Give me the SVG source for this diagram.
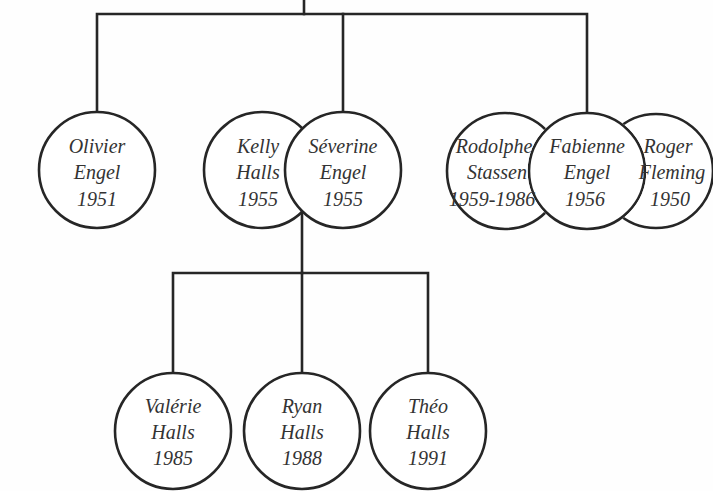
<svg xmlns="http://www.w3.org/2000/svg" width="713" height="491" viewBox="0 0 713 491">
<style>
.bg{fill:#fefefe}
.node circle{fill:#ffffff;stroke:#262626;stroke-width:2.6}
.node text{font-family:"Liberation Serif","DejaVu Serif",serif;font-style:italic;font-size:20px;fill:#333333;text-anchor:middle}
.conn{fill:none;stroke:#262626;stroke-width:2.6;stroke-linecap:square}
</style>
<defs>
<mask id="notFab" maskUnits="userSpaceOnUse" x="0" y="0" width="713" height="491">
<rect x="0" y="0" width="713" height="491" fill="#fff"/>
<circle cx="587" cy="171" r="59.4" fill="#000"/>
</mask>
</defs>
<rect class="bg" x="0" y="0" width="713" height="491"/>
<g id="connectors">
<path class="conn" d="M304 0 V14"/>
<path class="conn" d="M97 112 V14 H587 V113"/>
<path class="conn" d="M343 14 V113"/>
<path class="conn" d="M302 212 V273"/>
<path class="conn" d="M173 373 V273 H428 V373"/>
<path class="conn" d="M302 273 V373"/>
</g>
<g id="olivier" class="node">
<circle cx="97" cy="170" r="58"/>
<text x="97" y="153">Olivier</text>
<text x="97" y="179">Engel</text>
<text x="97" y="206">1951</text>
</g>
<g id="kelly" class="node">
<circle cx="262" cy="170" r="58"/>
<text x="258" y="153">Kelly</text>
<text x="258" y="179">Halls</text>
<text x="258" y="206">1955</text>
</g>
<g id="severine" class="node">
<circle cx="343" cy="170" r="58"/>
<text x="343" y="153">Séverine</text>
<text x="343" y="179">Engel</text>
<text x="343" y="206">1955</text>
</g>
<g id="fabienne" class="node">
<circle cx="587" cy="171" r="58"/>
<text x="587" y="153">Fabienne</text>
<text x="587" y="179">Engel</text>
<text x="585" y="206">1956</text>
</g>
<g id="rodolphe" class="node">
<circle cx="505" cy="171" r="58" mask="url(#notFab)"/>
<text x="494" y="153">Rodolphe</text>
<text x="497" y="179">Stassen</text>
<text x="492" y="206">1959-1986</text>
</g>
<g id="roger" class="node">
<circle cx="656" cy="171" r="57" mask="url(#notFab)"/>
<text x="668" y="153">Roger</text>
<text x="672" y="179">Fleming</text>
<text x="670" y="206">1950</text>
</g>
<g id="valerie" class="node">
<circle cx="173" cy="431" r="58"/>
<text x="173" y="413">Valérie</text>
<text x="173" y="439">Halls</text>
<text x="173" y="465">1985</text>
</g>
<g id="ryan" class="node">
<circle cx="302" cy="431" r="58"/>
<text x="302" y="413">Ryan</text>
<text x="302" y="439">Halls</text>
<text x="302" y="465">1988</text>
</g>
<g id="theo" class="node">
<circle cx="428" cy="431" r="58"/>
<text x="428" y="413">Théo</text>
<text x="428" y="439">Halls</text>
<text x="428" y="465">1991</text>
</g>
</svg>
